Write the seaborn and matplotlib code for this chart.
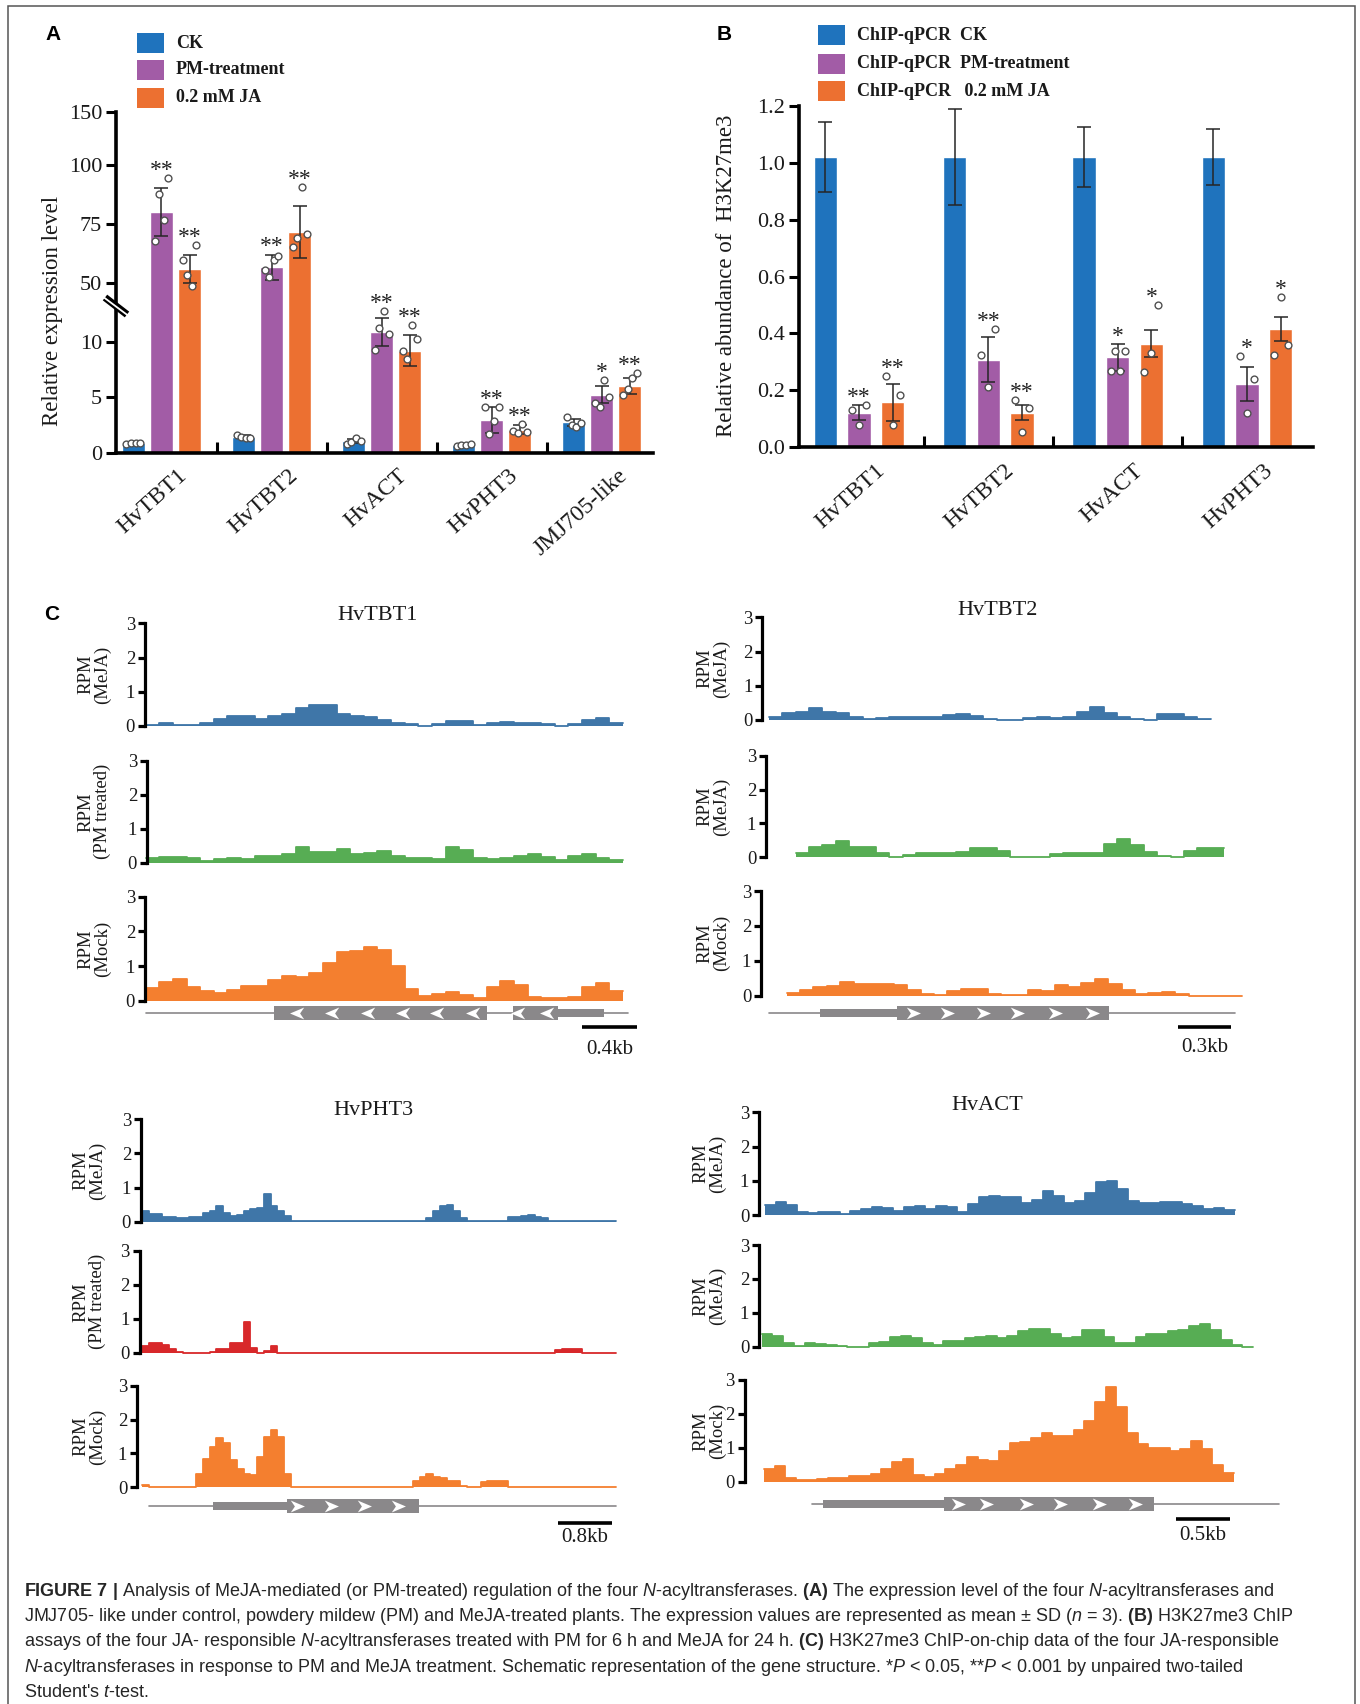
import numpy as np
import pandas as pd
import matplotlib
matplotlib.use("Agg")
import matplotlib.pyplot as plt
import seaborn as sns
from matplotlib.patches import Rectangle
from matplotlib.path import Path
from matplotlib.transforms import ScaledTranslation

# ---------------- panel A: relative expression ----------------
genes_a = ["HvTBT1", "HvTBT2", "HvACT", "HvPHT3", "JMJ705-like"]
groups_a = ["CK", "PM-treatment", "0.2 mM JA"]
ck_a = [0.87, 1.45, 1.06, 0.71, 2.74]
pm_a = [80.2, 56.7, 10.87, 2.97, 5.26]
ja_a = [56.0, 71.6, 9.19, 2.1, 6.03]
ck_sd_a = [0.1, 0.12, 0.15, 0.08, 0.3]
pm_sd_a = [10.1, 5.4, 1.26, 1.17, 0.78]
ja_sd_a = [5.9, 10.9, 1.4, 0.37, 0.74]
ck_pts_a = [[0.8, 0.9, 0.85, 0.9], [1.6, 1.4, 1.3, 1.3], [0.8, 1.0, 1.3, 1.1],
            [0.6, 0.7, 0.7, 0.8], [3.2, 2.5, 2.3, 2.7]]
pm_pts_a = [[67.8, 87.7, 76.8, 94.5], [55.5, 52.5, 59.6, 61.5], [9.26, 11.3, 12.8, 10.7],
            [4.13, 1.68, 2.84, 4.13], [4.5, 4.1, 6.6, 5.0]]
ja_pts_a = [[59.6, 53.3, 48.8, 66.0], [65.3, 69.0, 90.7, 70.8], [9.2, 8.5, 11.5, 10.3],
            [2.0, 1.8, 2.6, 1.9], [5.2, 5.8, 6.77, 7.16]]
pm_sig_a = ["**", "**", "**", "**", "*"]
ja_sig_a = ["**", "**", "**", "**", "**"]
yticks_a = [0, 5, 10, 50, 75, 100, 150]

# ---------------- panel B: ChIP-qPCR ----------------
genes_b = ["HvTBT1", "HvTBT2", "HvACT", "HvPHT3"]
groups_b = ["ChIP-qPCR  CK", "ChIP-qPCR  PM-treatment", "ChIP-qPCR   0.2 mM JA"]
ck_b = [1.02, 1.02, 1.02, 1.02]
pm_b = [0.122, 0.307, 0.317, 0.223]
ja_b = [0.159, 0.122, 0.364, 0.416]
ck_sd_b = [0.123, 0.168, 0.105, 0.098]
pm_sd_b = [0.027, 0.079, 0.047, 0.061]
ja_sd_b = [0.065, 0.027, 0.047, 0.043]
pm_pts_b = [[0.13, 0.08, 0.15], [0.326, 0.213, 0.416], [0.27, 0.339, 0.27, 0.339], [0.32, 0.122, 0.24]]
ja_pts_b = [[0.25, 0.079, 0.184], [0.167, 0.053, 0.138], [0.266, 0.33, 0.50], [0.324, 0.529, 0.361]]
pm_sig_b = ["**", "**", "*", "*"]
ja_sig_b = ["**", "**", "*", "*"]
yticks_b = [0.0, 0.2, 0.4, 0.6, 0.8, 1.0, 1.2]

# ---------------- panel C: ChIP-on-chip coverage (RPM per bin) ----------------
tbt1_bin = 0.1
tbt1_starts = [0.0, 0.0, 0.0]
tbt1_meja = [0.04, 0.09, 0.04, 0.04, 0.08, 0.2, 0.28, 0.28, 0.2, 0.3, 0.36, 0.52, 0.62, 0.6, 0.35,
             0.3, 0.25, 0.18, 0.08, 0.05, 0.01, 0.05, 0.15, 0.15, 0.04, 0.08, 0.13, 0.1, 0.1, 0.05,
             0.01, 0.05, 0.18, 0.22, 0.08]
tbt1_pm = [0.13, 0.16, 0.17, 0.13, 0.05, 0.1, 0.13, 0.1, 0.2, 0.2, 0.26, 0.45, 0.3, 0.3, 0.4,
           0.25, 0.28, 0.33, 0.2, 0.15, 0.14, 0.12, 0.45, 0.38, 0.15, 0.1, 0.13, 0.2, 0.25, 0.16,
           0.07, 0.2, 0.27, 0.13, 0.08]
tbt1_mock = [0.36, 0.55, 0.63, 0.4, 0.27, 0.21, 0.3, 0.43, 0.43, 0.6, 0.7, 0.67, 0.8, 1.1, 1.41,
             1.44, 1.55, 1.45, 1.0, 0.35, 0.13, 0.2, 0.24, 0.15, 0.07, 0.4, 0.58, 0.45, 0.1, 0.07,
             0.07, 0.12, 0.4, 0.52, 0.28]
tbt1_line = (0.0, 3.54)
tbt1_exons = [(0.945, 2.50), (2.69, 3.02)]
tbt1_utrs = [(3.02, 3.36)]
tbt1_arrows = [1.11, 1.37, 1.63, 1.89, 2.14, 2.40, 2.73, 2.94]
tbt1_scale = (3.20, 3.60, "0.4kb")

tbt2_bin = 0.075
tbt2_starts = [0.0, 0.15, 0.1]
tbt2_meja = [0.08, 0.2, 0.24, 0.34, 0.22, 0.2, 0.08, 0.02, 0.05, 0.08, 0.08, 0.08, 0.1, 0.16, 0.17,
             0.12, 0.03, 0.0, 0.0, 0.06, 0.08, 0.06, 0.1, 0.24, 0.38, 0.2, 0.08, 0.03, 0.0, 0.17,
             0.17, 0.1, 0.02]
tbt2_meja2 = [0.14, 0.3, 0.36, 0.47, 0.3, 0.3, 0.14, 0.02, 0.07, 0.14, 0.14, 0.14, 0.15, 0.27, 0.27,
              0.2, 0.02, 0.0, 0.0, 0.1, 0.14, 0.12, 0.12, 0.38, 0.55, 0.35, 0.15, 0.05, 0.0, 0.2,
              0.27, 0.27]
tbt2_mock = [0.07, 0.17, 0.26, 0.28, 0.38, 0.33, 0.33, 0.33, 0.3, 0.15, 0.04, 0.02, 0.14, 0.19, 0.18,
             0.04, 0.02, 0.03, 0.15, 0.14, 0.3, 0.26, 0.36, 0.47, 0.33, 0.15, 0.06, 0.07, 0.1, 0.04,
             0.0, 0.0, 0.0, 0.0]
tbt2_line = (0.0, 2.61)
tbt2_exons = [(0.72, 1.907)]
tbt2_utrs = [(0.285, 0.72)]
tbt2_arrows = [0.81, 1.0, 1.2, 1.39, 1.6, 1.81]
tbt2_scale = (2.29, 2.59, "0.3kb")

pht3_bin = 0.1
pht3_starts = [0.0, 0.0, 0.0]
pht3_meja = [0.3, 0.22, 0.22, 0.15, 0.15, 0.12, 0.1, 0.15, 0.15, 0.25, 0.32, 0.45, 0.25, 0.17, 0.2,
             0.3, 0.37, 0.4, 0.8, 0.45, 0.32, 0.18, 0.02, 0.02, 0.02, 0.02, 0.02, 0.02, 0.02, 0.02,
             0.02, 0.02, 0.02, 0.02, 0.02, 0.02, 0.02, 0.02, 0.02, 0.02, 0.02, 0.02, 0.1, 0.3, 0.45,
             0.48, 0.3, 0.12, 0.02, 0.02, 0.02, 0.02, 0.02, 0.02, 0.15, 0.15, 0.18, 0.2, 0.15, 0.1,
             0.02, 0.02, 0.02, 0.02, 0.02, 0.02, 0.02, 0.02, 0.02, 0.02]
pht3_pm = [0.2, 0.3, 0.3, 0.22, 0.1, 0.02, 0.0, 0.0, 0.0, 0.0, 0.03, 0.1, 0.1, 0.3, 0.3,
           0.9, 0.15, 0.0, 0.05, 0.2, 0.0, 0.0, 0.0, 0.0, 0.0, 0.0, 0.0, 0.0, 0.0, 0.0,
           0.0, 0.0, 0.0, 0.0, 0.0, 0.0, 0.0, 0.0, 0.0, 0.0, 0.0, 0.0, 0.0, 0.0, 0.0,
           0.0, 0.0, 0.0, 0.0, 0.0, 0.0, 0.0, 0.0, 0.0, 0.0, 0.0, 0.0, 0.0, 0.0, 0.0,
           0.0, 0.08, 0.12, 0.12, 0.12, 0.0, 0.0, 0.0, 0.0, 0.0]
pht3_mock = [0.07, 0.0, 0.0, 0.0, 0.0, 0.0, 0.0, 0.0, 0.4, 0.85, 1.2, 1.45, 1.3, 0.8, 0.55,
             0.4, 0.35, 0.9, 1.5, 1.68, 1.5, 0.4, 0.0, 0.0, 0.0, 0.0, 0.0, 0.0, 0.0, 0.0,
             0.0, 0.0, 0.0, 0.0, 0.0, 0.0, 0.0, 0.0, 0.0, 0.0, 0.2, 0.3, 0.4, 0.3, 0.27,
             0.19, 0.19, 0.05, 0.0, 0.0, 0.15, 0.2, 0.2, 0.18, 0.0, 0.0, 0.0, 0.0, 0.0, 0.0,
             0.0, 0.0, 0.0, 0.0, 0.0, 0.0, 0.0, 0.0, 0.0, 0.0]
pht3_line = (0.11, 7.0)
pht3_exons = [(2.14, 4.09)]
pht3_utrs = [(1.05, 2.14)]
pht3_arrows = [2.29, 2.79, 3.28, 3.78]
pht3_scale = (6.14, 6.94, "0.8kb")

act_bin = 0.1
act_starts = [0.03, 0.0, 0.02]
act_meja = [0.3, 0.38, 0.28, 0.1, 0.05, 0.09, 0.09, 0.04, 0.12, 0.18, 0.22, 0.2, 0.13, 0.24, 0.26,
            0.18, 0.27, 0.22, 0.1, 0.32, 0.52, 0.55, 0.52, 0.52, 0.35, 0.44, 0.7, 0.55, 0.35, 0.4,
            0.65, 0.95, 0.98, 0.75, 0.42, 0.34, 0.36, 0.39, 0.39, 0.33, 0.26, 0.17, 0.21, 0.15]
act_meja2 = [0.37, 0.32, 0.1, 0.02, 0.1, 0.09, 0.05, 0.02, 0.0, 0.0, 0.11, 0.15, 0.28, 0.33, 0.25,
             0.1, 0.05, 0.18, 0.18, 0.25, 0.28, 0.31, 0.27, 0.33, 0.47, 0.53, 0.51, 0.38, 0.25, 0.28,
             0.5, 0.5, 0.28, 0.12, 0.12, 0.3, 0.37, 0.37, 0.47, 0.5, 0.62, 0.67, 0.5, 0.2, 0.05, 0.0]
act_mock = [0.38, 0.45, 0.1, 0.04, 0.05, 0.07, 0.1, 0.12, 0.17, 0.18, 0.24, 0.38, 0.58, 0.68, 0.2,
            0.13, 0.22, 0.36, 0.5, 0.74, 0.65, 0.62, 0.9, 1.14, 1.18, 1.3, 1.45, 1.35, 1.35, 1.52,
            1.8, 2.35, 2.78, 2.2, 1.45, 1.12, 1.0, 0.98, 0.9, 0.95, 1.2, 0.95, 0.5, 0.27]
act_line = (0.47, 4.84)
act_exons = [(1.71, 3.67)]
act_utrs = [(0.57, 1.71)]
act_arrows = [1.84, 2.10, 2.47, 2.79, 3.16, 3.49]
act_scale = (3.88, 4.38, "0.5kb")

caption = [
    r"$\mathbf{FIGURE\ 7\ |}$ Analysis of MeJA-mediated (or PM-treated) regulation of the four $\mathit{N}$-acyltransferases. $\mathbf{(A)}$ The expression level of the four $\mathit{N}$-acyltransferases and",
    r"JMJ705- like under control, powdery mildew (PM) and MeJA-treated plants. The expression values are represented as mean ± SD ($\mathit{n}$ = 3). $\mathbf{(B)}$ H3K27me3 ChIP",
    r"assays of the four JA- responsible $\mathit{N}$-acyltransferases treated with PM for 6 h and MeJA for 24 h. $\mathbf{(C)}$ H3K27me3 ChIP-on-chip data of the four JA-responsible",
    r"$\mathit{N}$-acyltransferases in response to PM and MeJA treatment. Schematic representation of the gene structure. *$\mathit{P}$ < 0.05, **$\mathit{P}$ < 0.001 by unpaired two-tailed",
    r"Student's $\mathit{t}$-test.",
]

bar_colors = ["#1f73bd", "#a25ca6", "#ec7031"]
c_blue, c_green, c_orange, c_red = "#3f76a8", "#57ad54", "#f47f2f", "#d8282a"
gene_grey = "#8a888a"

# ---------------- style ----------------
sns.set_theme(style="white")
plt.rcParams["font.family"] = ["Liberation Serif", "DejaVu Serif"]
plt.rcParams["text.color"] = "#1a1a1a"
plt.rcParams["xtick.color"] = "#1a1a1a"
plt.rcParams["ytick.color"] = "#1a1a1a"
plt.rcParams["mathtext.fontset"] = "custom"
plt.rcParams["mathtext.rm"] = "Liberation Sans"
plt.rcParams["mathtext.it"] = "Liberation Sans:italic"
plt.rcParams["mathtext.bf"] = "Liberation Sans:bold"

W, H = 1360, 1704
fig = plt.figure(figsize=(W / 100, H / 100), dpi=100)


def add_ax(l, t, r, b):
    return fig.add_axes([l / W, 1 - b / H, (r - l) / W, (b - t) / H])


def ftext(x, y, s, **kw):
    return fig.text(x / W, 1 - y / H, s, **kw)


def fline(xs, ys, **kw):
    fig.add_artist(plt.Line2D([x / W for x in xs], [1 - y / H for y in ys],
                              transform=fig.transFigure, **kw))


def legend_rows(x, ys, labels):
    for y, lab, col in zip(ys, labels, bar_colors):
        fig.add_artist(Rectangle((x / W, 1 - (y + 10) / H), 27 / W, 20 / H,
                                 transform=fig.transFigure, color=col, lw=0))
        ftext(x + 39, y, lab, fontsize=13, fontweight="bold", va="center")


def bar_panel(ax, genes, labels, means, sds, pts, sigs, width, gap):
    df = pd.DataFrame({
        "gene": [g for m in means for g in genes],
        "group": [lab for lab in labels for _ in genes],
        "value": [v for m in means for v in m],
    })
    sns.barplot(data=df, x="gene", y="value", hue="group", order=genes, hue_order=labels,
                palette=bar_colors, width=width, gap=gap, errorbar=None, legend=False,
                saturation=1, ax=ax, zorder=2)
    for cont, m, sd, pp, sg in zip(ax.containers, means, sds, pts, sigs):
        xs = np.array([b.get_x() + b.get_width() / 2 for b in cont])
        bw = cont[0].get_width()
        ax.errorbar(xs, m, yerr=sd, fmt="none", ecolor="#262626", elinewidth=1.1,
                    capsize=5, capthick=1.1, zorder=3)
        if pp is None:
            continue
        if sg is None:
            sg = [""] * len(genes)
        for x, vals, mu, s, star in zip(xs, pp, m, sd, sg):
            off = np.linspace(-0.3, 0.3, len(vals)) * bw
            ax.scatter(x + off, vals, s=24, facecolor="white", edgecolor="#505050",
                       linewidth=1, zorder=4)
            if star:
                top = max(max(vals), mu + s)
                ax.annotate(star, (x, top), xytext=(0, 1.5), textcoords="offset points",
                            ha="center", va="baseline", fontsize=17, color="#222222")


def style_bar_axes(ax, genes, xlim, yticks, fmt):
    sns.despine(ax=ax)
    for s in ["left", "bottom"]:
        ax.spines[s].set_linewidth(2.6)
        ax.spines[s].set_color("black")
    ax.set_xlim(*xlim)
    ax.set_xlabel("")
    ax.set_ylabel("")
    ax.set_yticks(yticks)
    ax.set_yticklabels([fmt(v) for v in yticks])
    ax.tick_params(axis="y", left=True, length=7, width=2.2, direction="out",
                   labelsize=16, pad=3, color="black")
    ax.set_xticks(range(len(genes)))
    ax.set_xticklabels(genes, rotation=42, ha="right", va="top", rotation_mode="anchor",
                       fontsize=17)
    ax.tick_params(axis="x", which="major", length=0, pad=9)
    ax.set_xticks(np.arange(len(genes) - 1) + 0.5, minor=True)
    ax.tick_params(axis="x", which="minor", bottom=True, direction="in", length=8,
                   width=2.2, color="black")
    shift = ScaledTranslation(16 / 100, 0, fig.dpi_scale_trans)
    for lab in ax.get_xticklabels():
        lab.set_transform(lab.get_transform() + shift)


# ---------------- panel A ----------------
axA = add_ax(116, 111.8, 653, 452.8)
bar_panel(axA, genes_a, groups_a, [ck_a, pm_a, ja_a], [ck_sd_a, pm_sd_a, ja_sd_a],
          [ck_pts_a, pm_pts_a, ja_pts_a], [None, pm_sig_a, ja_sig_a], 0.765, 0.18)
# broken y axis: 0-13.2 linear, jump, 40.6-150
brk_v = [0, 10, 13.2, 40.6, 100, 150]
brk_h = [0, 110.8, 146.3, 147.3, 288.2, 341]
axA.set_yscale("function", functions=(lambda v: np.interp(v, brk_v, brk_h),
                                      lambda h: np.interp(h, brk_h, brk_v)))
axA.set_ylim(0, 150)
axA.yaxis.set_minor_locator(matplotlib.ticker.NullLocator())
style_bar_axes(axA, genes_a, (-0.413, 4.464), yticks_a, lambda v: f"{v:g}")
# axis break mark
fline([105, 127], [297.5, 314.5], color="black", lw=5.2, solid_capstyle="butt")
fline([104, 128], [297.5, 315.5], color="white", lw=1.3, solid_capstyle="butt")
ftext(53, 311, "Relative expression level", rotation=90, ha="center", va="center",
      fontsize=16.5)
legend_rows(137, [43, 70, 97.5], groups_a)
ftext(53, 35, "A", family="Liberation Sans", fontweight="bold", fontsize=15,
      ha="center", va="center", color="black")

# ---------------- panel B ----------------
axB = add_ax(798.6, 105.7, 1313, 447.4)
bar_panel(axB, genes_b, groups_b, [ck_b, pm_b, ja_b], [ck_sd_b, pm_sd_b, ja_sd_b],
          [None, pm_pts_b, ja_pts_b], [None, pm_sig_b, ja_sig_b], 0.78, 0.31)
axB.set_ylim(0, 1.2)
style_bar_axes(axB, genes_b, (-0.467, 3.51), yticks_b, lambda v: f"{v:.1f}")
ftext(726, 276, "Relative abundance of  H3K27me3", rotation=90, ha="center",
      va="center", fontsize=16.5)
legend_rows(818, [35, 63.6, 91.4], groups_b)
ftext(724, 35, "B", family="Liberation Sans", fontweight="bold", fontsize=15,
      ha="center", va="center", color="black")

# ---------------- panel C ----------------
ftext(52, 615, "C", family="Liberation Sans", fontweight="bold", fontsize=15,
      ha="center", va="center", color="black")

arrow_r = Path([(1, 0), (-0.9, 0.8), (-0.35, 0), (-0.9, -0.8), (1, 0)],
               [Path.MOVETO, Path.LINETO, Path.LINETO, Path.LINETO, Path.CLOSEPOLY])
arrow_l = Path([(-1, 0), (0.9, 0.8), (0.35, 0), (0.9, -0.8), (-1, 0)],
               [Path.MOVETO, Path.LINETO, Path.LINETO, Path.LINETO, Path.CLOSEPOLY])

blocks = [
    dict(name="HvTBT1", tracks=[tbt1_meja, tbt1_pm, tbt1_mock], starts=tbt1_starts, bin=tbt1_bin,
         colors=[c_blue, c_green, c_orange], labels=["(MeJA)", "(PM treated)", "(Mock)"],
         line=tbt1_line, exons=tbt1_exons, utrs=tbt1_utrs, arrows=tbt1_arrows, strand="-",
         scale=tbt1_scale, x0=145.6, ppk=136.4, axis=[144.8, 146.8, 144.8],
         tops=[623.3, 760.7, 896.7], bases=[726, 862.7, 1000.7], right=645,
         gene_y=1013.3, sb_y=1027.3, lab_y=1049, title=(378, 615), lab_x=94),
    dict(name="HvTBT2", tracks=[tbt2_meja, tbt2_meja2, tbt2_mock], starts=tbt2_starts, bin=tbt2_bin,
         colors=[c_blue, c_green, c_orange], labels=["(MeJA)", "(MeJA)", "(Mock)"],
         line=tbt2_line, exons=tbt2_exons, utrs=tbt2_utrs, arrows=tbt2_arrows, strand="+",
         scale=tbt2_scale, x0=768.8, ppk=178.6, axis=[762.3, 766, 761],
         tops=[617.3, 755.7, 891], bases=[720, 857.3, 995.7], right=1245,
         gene_y=1013.3, sb_y=1027.3, lab_y=1048, title=(997.6, 610.7), lab_x=713),
    dict(name="HvPHT3", tracks=[pht3_meja, pht3_pm, pht3_mock], starts=pht3_starts, bin=pht3_bin,
         colors=[c_blue, c_red, c_orange], labels=["(MeJA)", "(PM treated)", "(Mock)"],
         line=pht3_line, exons=pht3_exons, utrs=pht3_utrs, arrows=pht3_arrows, strand="+",
         scale=pht3_scale, x0=142, ppk=67.7, axis=[140.8, 139.6, 136.9],
         tops=[1119.3, 1250.7, 1385.7], bases=[1221.7, 1352.7, 1487.3], right=625,
         gene_y=1506, sb_y=1522.7, lab_y=1537, title=(373, 1110.7), lab_x=89),
    dict(name="HvACT", tracks=[act_meja, act_meja2, act_mock], starts=act_starts, bin=act_bin,
         colors=[c_blue, c_green, c_orange], labels=["(MeJA)", "(MeJA)", "(Mock)"],
         line=act_line, exons=act_exons, utrs=act_utrs, arrows=act_arrows, strand="+",
         scale=act_scale, x0=761.8, ppk=106.8, axis=[759, 759, 744.5],
         tops=[1112.3, 1245, 1380], bases=[1215, 1346.7, 1481.7], right=1290,
         gene_y=1504, sb_y=1519, lab_y=1536, title=(987.6, 1105), lab_x=709),
]

for blk in blocks:
    x0, ppk, right = blk["x0"], blk["ppk"], blk["right"]
    ftext(*blk["title"], blk["name"], ha="center", va="center", fontsize=16)
    for vals, start, col, lab, axx, top, base in zip(blk["tracks"], blk["starts"], blk["colors"],
                                                     blk["labels"], blk["axis"], blk["tops"],
                                                     blk["bases"]):
        ax = add_ax(axx, top, right, base)
        edges = start + blk["bin"] * np.arange(len(vals) + 1)
        yy = np.r_[vals, vals[-1]]
        ax.fill_between(edges, 0, yy, step="post", color=col, lw=0)
        ax.step(edges, yy, where="post", color=col, lw=1.3, clip_on=False)
        ax.set_xlim((axx - x0) / ppk, (right - x0) / ppk)
        ax.set_ylim(0, 3)
        ax.set_yticks([0, 1, 2, 3])
        ax.set_xticks([])
        for s in ["top", "right", "bottom"]:
            ax.spines[s].set_visible(False)
        ax.spines["left"].set_linewidth(2.3)
        ax.spines["left"].set_color("black")
        ax.tick_params(axis="y", left=True, length=5, width=2.3, labelsize=13.5, pad=2,
                       color="black")
        ax.patch.set_alpha(0)
        ftext(blk["lab_x"], (top + base) / 2, "RPM\n" + lab, rotation=90, ha="center",
              va="center", fontsize=13.5, linespacing=0.95, multialignment="center")

    # gene model + scale bar, y in pixel units
    gy, sby, ly = blk["gene_y"], blk["sb_y"], blk["lab_y"]
    g_left = min(blk["axis"])
    gax = add_ax(g_left, gy - 14, right, ly + 14)
    gax.set_xlim((g_left - x0) / ppk, (right - x0) / ppk)
    gax.set_ylim(ly + 14, gy - 14)
    gax.axis("off")
    gax.plot(blk["line"], [gy, gy], color=gene_grey, lw=1.2, zorder=1)
    for a, b in blk["utrs"]:
        gax.add_patch(Rectangle((a, gy - 4), b - a, 8, color=gene_grey, lw=0, zorder=2))
    for a, b in blk["exons"]:
        gax.add_patch(Rectangle((a, gy - 7), b - a, 14, color=gene_grey, lw=0, zorder=2))
    gax.scatter(blk["arrows"], [gy] * len(blk["arrows"]), s=115, color="white", lw=0,
                marker=arrow_r if blk["strand"] == "+" else arrow_l, zorder=3)
    s0, s1, stxt = blk["scale"]
    gax.plot([s0, s1], [sby, sby], color="black", lw=2.6, solid_capstyle="butt")
    gax.text((s0 + s1) / 2, ly, stxt, ha="center", va="center", fontsize=15)

# ---------------- caption + frame ----------------
for i, line in enumerate(caption):
    ftext(24, 1591 + 25.4 * i, line, family="Liberation Sans", fontsize=13,
          color="#262626", va="center")

fig.add_artist(Rectangle((8 / W, -0.01), (1355 - 8) / W, 1 - 6 / H + 0.01,
                         transform=fig.transFigure, fill=False, ec="#555555", lw=1.1))

fig.savefig("out.png", dpi=100, facecolor="white")
